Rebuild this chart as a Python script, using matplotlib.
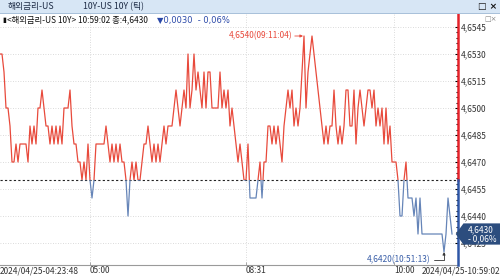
import numpy as np
import matplotlib
matplotlib.use("Agg")
import matplotlib.pyplot as plt
import matplotlib.transforms as mtransforms
from matplotlib.patches import Rectangle, Polygon

plt.rcParams['font.family'] = ['Noto Sans CJK KR', 'DejaVu Sans']

# tick-by-tick prices of the US 10Y yield (one entry per trade)
prices = [
    4.653, 4.653, 4.652, 4.650, 4.650, 4.649, 4.647, 4.647, 4.648, 4.647,
    4.648, 4.648, 4.648, 4.648, 4.647, 4.649, 4.648, 4.649, 4.648, 4.650,
    4.650, 4.651, 4.650, 4.649, 4.649, 4.648, 4.649, 4.648, 4.649, 4.648,
    4.649, 4.648, 4.650, 4.650, 4.650, 4.651, 4.649, 4.648, 4.648, 4.647,
    4.647, 4.646, 4.647, 4.646, 4.648, 4.646, 4.645, 4.646, 4.648, 4.648,
    4.648, 4.648, 4.648, 4.649, 4.648, 4.647, 4.648, 4.647, 4.648, 4.647,
    4.648, 4.647, 4.647, 4.646, 4.644, 4.646, 4.647, 4.646, 4.647, 4.646,
    4.646, 4.647, 4.648, 4.648, 4.649, 4.648, 4.647, 4.648, 4.647, 4.648,
    4.647, 4.648, 4.649, 4.648, 4.649, 4.649, 4.649, 4.650, 4.651, 4.650,
    4.649, 4.650, 4.651, 4.650, 4.653, 4.650, 4.651, 4.653, 4.651, 4.652,
    4.651, 4.650, 4.652, 4.650, 4.652, 4.652, 4.650, 4.650, 4.650, 4.650,
    4.652, 4.650, 4.651, 4.650, 4.651, 4.649, 4.650, 4.649, 4.648, 4.647,
    4.648, 4.647, 4.646, 4.646, 4.648, 4.645, 4.645, 4.645, 4.645, 4.646,
    4.647, 4.645, 4.647, 4.647, 4.649, 4.649, 4.648, 4.649, 4.648, 4.649,
    4.648, 4.647, 4.649, 4.650, 4.651, 4.650, 4.651, 4.649, 4.650, 4.649,
    4.650, 4.652, 4.654, 4.650, 4.652, 4.653, 4.654, 4.653, 4.652, 4.651,
    4.650, 4.649, 4.648, 4.649, 4.648, 4.649, 4.649, 4.651, 4.649, 4.648,
    4.649, 4.648, 4.649, 4.651, 4.651, 4.649, 4.649, 4.651, 4.648, 4.650,
    4.651, 4.650, 4.649, 4.650, 4.651, 4.651, 4.650, 4.651, 4.649, 4.650,
    4.649, 4.650, 4.648, 4.650, 4.648, 4.649, 4.647, 4.647, 4.647, 4.646,
    4.644, 4.644, 4.646, 4.647, 4.645, 4.645, 4.645, 4.644, 4.645, 4.643,
    4.645, 4.643, 4.643, 4.643, 4.643, 4.643, 4.643, 4.643, 4.643, 4.643,
    4.643, 4.643, 4.642, 4.643, 4.645, 4.644, 4.643,
]
prev_close = 4.6460
y_tick_values = [4.6425, 4.6440, 4.6455, 4.6470, 4.6485, 4.6500, 4.6515, 4.6530, 4.6545]
x_tick_index = [45, 123, 197]
x_tick_labels = ["05:00", "08:31", "10:00"]
start_label = "2024/04/25-04:23:48"
end_label = "2024/04/25-10:59:02"
max_label = "4,6540(09:11:04)"
min_label = "4,6420(10:51:13)"
last_label = "4,6430\n- 0,06%"

RED = '#e84a3c'
BLUE = '#6685b8'
AX_RED = '#e5222a'
AX_BLUE = '#2e56a6'
NAVY = '#2c4d7e'

def fmt(v):
    return ("%.4f" % v).replace(".", ",")

W, H = 500, 280
fig = plt.figure(figsize=(5, 2.8), dpi=100)
ax = fig.add_axes([0, 15 / H, 458 / W, (265 - 13) / H])

x = np.arange(len(prices))
p = np.array(prices)
xmax = (len(prices) - 1) * 458 / 452
ax.set_xlim(0, xmax)
ax.set_ylim(4.641278, 4.655278)

# line split into red (above previous close) and blue (below)
up, = ax.plot(x, p, color=RED, lw=0.9, zorder=3)
dn, = ax.plot(x, p, color=BLUE, lw=0.9, zorder=3)
up.set_clip_path(Rectangle((-10, prev_close), xmax + 20, 1, transform=ax.transData))
dn.set_clip_path(Rectangle((-10, prev_close - 1), xmax + 20, 1, transform=ax.transData))

ax.axhline(prev_close, color='#222222', lw=0.8, ls=(0, (2, 2)), zorder=2)

# axes styling
for s in ['left', 'top', 'right']:
    ax.spines[s].set_visible(False)
ax.spines['bottom'].set_color('#9a9a9a')
ax.spines['bottom'].set_linewidth(0.8)

ax.yaxis.tick_right()
ax.set_yticks(y_tick_values)
ax.set_yticklabels([fmt(v) for v in y_tick_values])
minor = np.arange(y_tick_values[0], y_tick_values[-1] + 1e-6, 0.0003)
ax.set_yticks(minor, minor=True)
ax.tick_params(axis='y', which='both', direction='in', length=2.5, width=0.8,
               labelsize=6, pad=2, labelcolor='#333333')
ax.tick_params(axis='y', which='minor', length=1.8)
for t in ax.yaxis.get_major_ticks() + ax.yaxis.get_minor_ticks():
    t.tick2line.set_color(AX_RED if t.get_loc() > prev_close else AX_BLUE)

ax.set_xticks(x_tick_index)
ax.set_xticklabels(x_tick_labels, ha='left')
ax.tick_params(axis='x', direction='in', length=2, width=0.6, color='#9a9a9a',
               labelsize=6, pad=1, labelcolor='#333333')

ax.grid(True, color='#cfcfcf', lw=0.6, ls=(0, (1, 2)))
ax.set_axisbelow(True)

# right axis line, coloured around the previous close
bl = mtransforms.blended_transform_factory(ax.transAxes, ax.transData)
ylo, yhi = ax.get_ylim()
ax.plot([1, 1], [prev_close, yhi], color=AX_RED, lw=1.8, transform=bl, clip_on=False, zorder=6)
ax.plot([1, 1], [ylo, prev_close], color=AX_BLUE, lw=1.8, transform=bl, clip_on=False, zorder=6)

# last price tag
last = p[-1]
h = 0.00118
ax.add_patch(Polygon([(0.995, last), (1.012, last + h / 2), (1.095, last + h / 2),
                      (1.095, last - h / 2), (1.012, last - h / 2)],
                     closed=True, transform=bl, fc=NAVY, ec='none', clip_on=False, zorder=7))
ax.text(1.0 + 10 / 458, last, last_label, transform=bl, color='white', fontsize=6,
        va='center', ha='left', linespacing=0.95, clip_on=False, zorder=8)

# max / min annotations
imax = int(np.argmax(p))
imin = int(np.argmin(p))
ax.annotate(max_label, xy=(imax - 0.5, p[imax]), xytext=(-11, 0), textcoords='offset pixels',
            ha='right', va='center', fontsize=6, color=RED,
            arrowprops=dict(arrowstyle='-|>', color=RED, lw=0.6, mutation_scale=4,
                            shrinkA=0, shrinkB=0))
ax.annotate(min_label, xy=(imin, p[imin]), xytext=(-14, -8), textcoords='offset pixels',
            ha='right', va='center', fontsize=6, color='#3a5fa8',
            arrowprops=dict(arrowstyle='-|>', color='#333333', lw=0.6, mutation_scale=4,
                            shrinkA=1, shrinkB=0,
                            connectionstyle='angle,angleA=0,angleB=90,rad=0'))

# bottom end labels
fig.text(0.0, 1 - 271 / H, start_label, fontsize=6, color='#333333', ha='left', va='center')
fig.text(1.0, 1 - 271 / H, end_label, fontsize=6, color='#333333', ha='right', va='center')

# window title bar
fig.patches.append(Rectangle((0, 1 - 13 / H), 1, 13 / H, transform=fig.transFigure,
                             fc='#d7e6f5', ec='none', zorder=0))
fig.patches.append(Rectangle((0, 1 - 13.5 / H), 1, 0.6 / H, transform=fig.transFigure,
                             fc='#a9c1da', ec='none', zorder=0))
fig.text(8 / W, 1 - 6.5 / H, "해외금리-US", fontsize=6.3, color='#1c2a44', va='center')
fig.text(83 / W, 1 - 6.5 / H, "10Y-US 10Y (틱)", fontsize=6.3, color='#1c2a44', va='center')
fig.text(478 / W, 1 - 6.5 / H, "□ ×", fontsize=6.5, color='#111111', va='center',
         family=['DejaVu Sans'], weight='bold')

# info line
fig.text(2 / W, 1 - 20 / H, "▮", fontsize=5, color='#111111', va='center', family=['DejaVu Sans'])
fig.text(7 / W, 1 - 20 / H, "<해외금리-US 10Y> 10:59:02 종:4,6430", fontsize=6,
         color='#111111', va='center')
fig.text(157 / W, 1 - 20 / H, "▼0,0030  - 0,06%", fontsize=6, color='#2a48a8', va='center',
         family=['DejaVu Sans'])
fig.text(484 / W, 1 - 19 / H, "□×", fontsize=5, color='#888888', va='center',
         family=['DejaVu Sans'])

fig.savefig("out.png", dpi=100)
